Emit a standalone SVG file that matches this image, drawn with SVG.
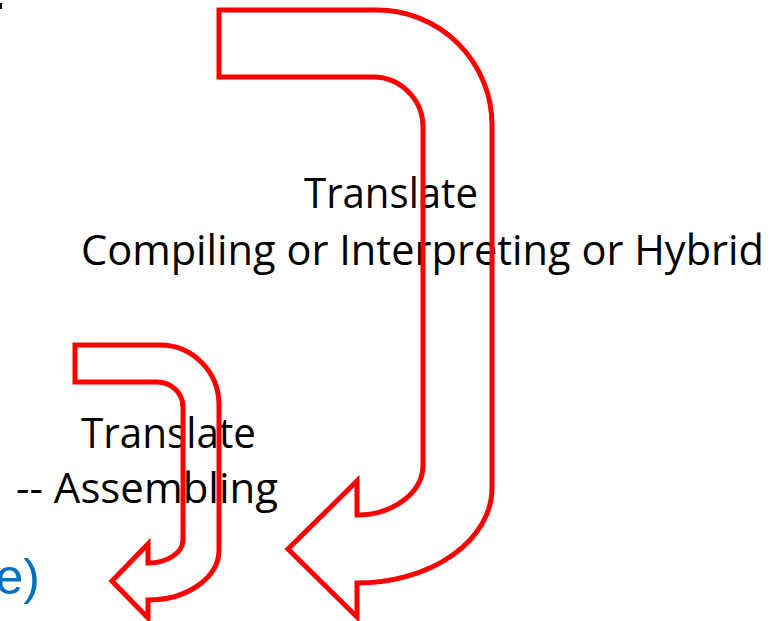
<svg xmlns="http://www.w3.org/2000/svg" width="779" height="621" viewBox="0 0 779 621">
  <style>
    .lbl { font-family: "Open Sans", "Liberation Sans", sans-serif; font-size: 42px; fill: #000000; }
    .blue { font-family: "Liberation Sans", Arial, sans-serif; font-size: 50px; fill: #0070C0; }
    .arrow { fill: none; stroke: #FF0000; stroke-width: 5; stroke-linejoin: miter; }
  </style>
  <rect width="779" height="621" fill="#FFFFFF"/>
  <rect x="0" y="3" width="2" height="6" fill="#000000"/>
  <g id="label-compile">
    <text class="lbl" x="304" y="208" textLength="174" lengthAdjust="spacingAndGlyphs">Translate</text>
    <text class="lbl" x="81" y="265" textLength="683" lengthAdjust="spacingAndGlyphs">Compiling or Interpreting or Hybrid</text>
  </g>
  <g id="label-assemble">
    <text class="lbl" x="81" y="448" textLength="175" lengthAdjust="spacingAndGlyphs">Translate</text>
    <text class="lbl" x="16" y="503" textLength="262" lengthAdjust="spacingAndGlyphs">-- Assembling</text>
  </g>
  <g id="label-e">
    <text class="blue" x="40" y="594" text-anchor="end">e)</text>
  </g>
  <g id="connectors">
    <path class="arrow" d="M 219 10 L 377 10 A 115 115 0 0 1 492 125 L 492 488 A 135 95 0 0 1 357 583 L 357 617 L 288 549 L 357 481 L 357 515 A 66 50 0 0 0 423 465 L 423 127 A 50 50 0 0 0 373 77 L 219 77 Z"/>
    <path class="arrow" d="M 75 345 L 160 345 A 59 60 0 0 1 219 405 L 219 550 A 71 50 0 0 1 148 600 L 148 618 L 112 581 L 148 544 L 148 563 A 35 23 0 0 0 183 540 L 183 407 A 26 25 0 0 0 157 382 L 75 382 Z"/>
  </g>
</svg>
